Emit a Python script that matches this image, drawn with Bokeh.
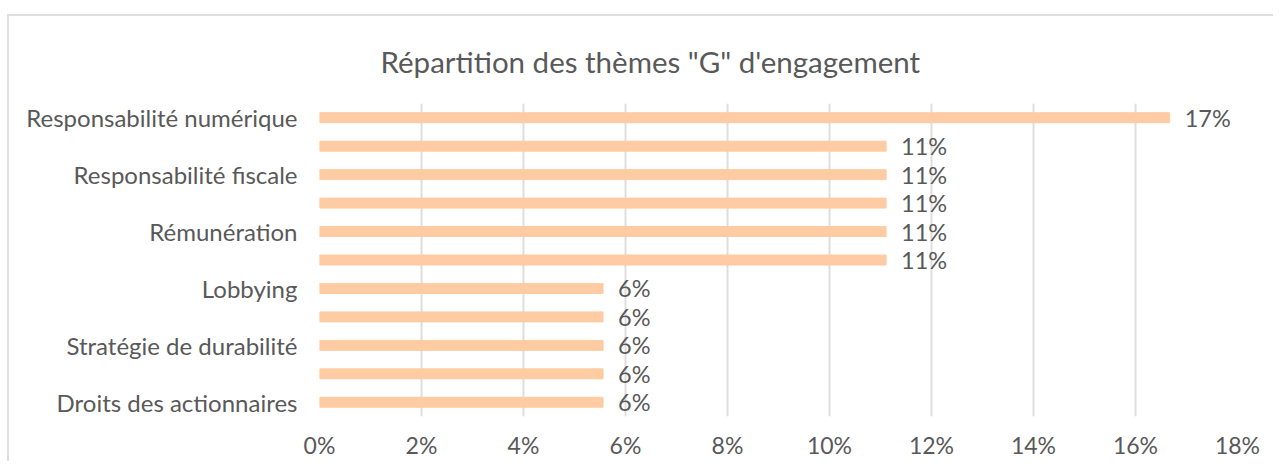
from bokeh.plotting import figure
from bokeh.models import ColumnDataSource, Range1d, FixedTicker, LabelSet, PrintfTickFormatter
from bokeh.core.properties import value
from bokeh.embed import file_html
from bokeh.resources import INLINE

# Data
categories = ["Responsabilité numérique", "", "Responsabilité fiscale", "", "Rémunération", "",
              "Lobbying", "", "Stratégie de durabilité", "", "Droits des actionnaires"]
values = [16.67, 11.11, 11.11, 11.11, 11.11, 11.11, 5.56, 5.56, 5.56, 5.56, 5.56]
value_labels = ["17%", "11%", "11%", "11%", "11%", "11%", "6%", "6%", "6%", "6%", "6%"]
x_ticks = [0, 2, 4, 6, 8, 10, 12, 14, 16, 18]
title_text = 'Répartition des thèmes "G" d\'engagement'

FONT = "Lato"
TXT = "#595959"

positions = list(range(len(categories)))
src = ColumnDataSource(dict(y=positions, v=values, lab=value_labels))

p = figure(width=1264, height=440, output_backend="svg", toolbar_location=None,
           x_range=Range1d(0, 18), y_range=Range1d(len(categories) - 0.5, -0.5),
           frame_width=918, frame_height=313,
           min_border_left=310, min_border_top=87, min_border_right=36, min_border_bottom=40)
p.styles = {"border-left": "2px solid #DEDEDE", "border-top": "2px solid #DEDEDE",
            "margin-top": "14px", "margin-left": "7px"}

p.hbar(y="y", right="v", left=0, height=0.35, source=src, color="#FFCBA2")

labels = LabelSet(x="v", y="y", text="lab", source=src, x_offset=15, text_baseline="middle",
                  text_font=value(FONT), text_font_size="23.5px", text_color=TXT)
p.add_layout(labels)

p.title.text = title_text
p.title.align = "left"
p.title.offset = 61
p.title.standoff = 49
p.title.text_font = FONT
p.title.text_font_size = "29.5px"
p.title.text_font_style = "normal"
p.title.text_color = TXT

p.xaxis.ticker = FixedTicker(ticks=x_ticks)
p.xaxis.formatter = PrintfTickFormatter(format="%d%%")
p.yaxis.ticker = FixedTicker(ticks=positions)
p.yaxis.major_label_overrides = {i: c for i, c in enumerate(categories)}
for ax in (p.xaxis, p.yaxis):
    ax.axis_line_color = None
    ax.major_tick_line_color = None
    ax.minor_tick_line_color = None
    ax.major_label_text_font = FONT
    ax.major_label_text_color = TXT
p.xaxis.major_label_text_font_size = "23px"
p.yaxis.major_label_text_font_size = "24px"
p.xaxis.major_label_standoff = 8
p.yaxis.major_label_standoff = 16

p.xgrid.grid_line_color = "#DEDEDE"
p.xgrid.grid_line_width = 2
p.ygrid.grid_line_color = None
p.outline_line_color = None
p.background_fill_color = "white"
p.border_fill_color = "white"

open("out.html", "w").write(file_html(p, INLINE))
